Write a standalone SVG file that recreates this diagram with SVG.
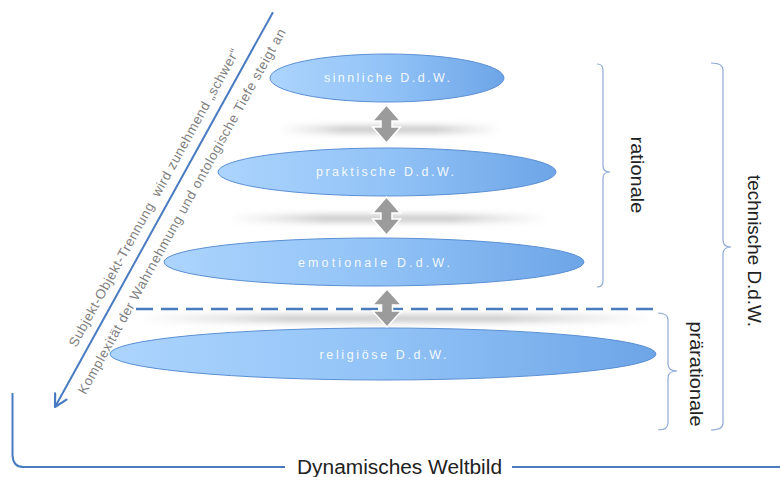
<svg xmlns="http://www.w3.org/2000/svg" width="780" height="477" viewBox="0 0 780 477">
  <defs>
    <linearGradient id="ellGrad" x1="0" y1="0" x2="1" y2="0">
      <stop offset="0" stop-color="#acd4fd"/>
      <stop offset="0.5" stop-color="#92c3f7"/>
      <stop offset="1" stop-color="#6da5e7"/>
    </linearGradient>
    <linearGradient id="shadowGrad" x1="0" y1="0" x2="1" y2="0">
      <stop offset="0" stop-color="#d0d0d0" stop-opacity="0"/>
      <stop offset="0.3" stop-color="#c4c4c4"/>
      <stop offset="0.7" stop-color="#c4c4c4"/>
      <stop offset="1" stop-color="#d0d0d0" stop-opacity="0"/>
    </linearGradient>
    <filter id="blurV" x="-10%" y="-200%" width="120%" height="500%">
      <feGaussianBlur stdDeviation="2 3"/>
    </filter>
    <marker id="openHead" markerUnits="userSpaceOnUse" markerWidth="16" markerHeight="16" refX="1" refY="8" orient="auto" viewBox="0 0 16 16">
      <path d="M13,1.5 L1,8 L13,14.5" fill="none" stroke="#4a7bc0" stroke-width="2.2" stroke-linecap="round" stroke-linejoin="round"/>
    </marker>
    <style>
      .ell { fill: url(#ellGrad); stroke: #5b8fd3; stroke-width: 1; }
      .ellText { font-family: "Liberation Sans", Arial, sans-serif; font-size: 12.5px; fill: #ffffff; fill-opacity: 0.92; text-anchor: middle; }
      .dbl { fill: #9b9b9b; stroke: #ffffff; stroke-width: 1.5; }
      .brace { fill: none; stroke: #8faad6; stroke-width: 1.2; }
      .label { font-family: "Liberation Sans", Arial, sans-serif; font-size: 19px; fill: #222222; text-anchor: middle; }
      .diag { font-family: "Liberation Sans", Arial, sans-serif; font-size: 13.5px; fill: #7f7f7f; }
      .blueLine { fill: none; stroke: #4a7bc0; stroke-width: 2; }
      .shadow { fill: url(#shadowGrad); filter: url(#blurV); }
    </style>
  </defs>
  <rect width="780" height="477" fill="#ffffff"/>

  <!-- shadows -->
  <g id="shadows">
    <rect class="shadow" x="278" y="126" width="224" height="7"/>
    <rect class="shadow" x="228" y="215" width="320" height="7"/>
    <rect class="shadow" x="138" y="315" width="515" height="7"/>
  </g>

  <!-- dashed separator -->
  <g id="separator">
    <line x1="136" y1="309" x2="655" y2="309" stroke="#4a7bbf" stroke-width="2.5" stroke-dasharray="17 8"/>
  </g>

  <!-- nodes -->
  <g id="sinnliche">
    <ellipse class="ell" cx="387" cy="78" rx="117" ry="24"/>
    <text class="ellText" x="387" y="82" textLength="126" lengthAdjust="spacing">sinnliche D.d.W.</text>
  </g>
  <g id="praktische">
    <ellipse class="ell" cx="387" cy="172" rx="169" ry="24"/>
    <text class="ellText" x="385" y="176" textLength="138" lengthAdjust="spacing">praktische D.d.W.</text>
  </g>
  <g id="emotionale">
    <ellipse class="ell" cx="374" cy="262" rx="210" ry="24"/>
    <text class="ellText" x="374" y="267" textLength="152" lengthAdjust="spacing">emotionale D.d.W.</text>
  </g>
  <g id="religioese">
    <ellipse class="ell" cx="383" cy="354" rx="273" ry="26"/>
    <text class="ellText" x="383" y="359" textLength="127" lengthAdjust="spacing">religiöse D.d.W.</text>
  </g>

  <!-- connectors: double arrows -->
  <g id="connectors">
    <polygon class="dbl" points="386.5,105 400.5,121 392,121 392,127 400.5,127 386.5,143 372.5,127 381,127 381,121 372.5,121"/>
    <polygon class="dbl" points="386.5,197 400.5,213 392,213 392,219 400.5,219 386.5,235 372.5,219 381,219 381,213 372.5,213"/>
    <polygon class="dbl" points="387,289 401.5,305 392.5,305 392.5,311 401.5,311 387,327 372.5,311 381.5,311 381.5,305 372.5,305"/>
  </g>

  <!-- diagonal arrow with texts -->
  <g id="diagonal" transform="translate(55,407) rotate(-61.1)">
    <line class="blueLine" x1="0" y1="0" x2="451" y2="0" marker-start="url(#openHead)"/>
    <text class="diag" x="62" y="-10" textLength="338" lengthAdjust="spacing" xml:space="preserve">Subjekt-Objekt-Trennung  wird zunehmend „schwer“</text>
    <text class="diag" x="25" y="21" textLength="415" lengthAdjust="spacing">Komplexität der Wahrnehmung und ontologische Tiefe steigt an</text>
  </g>

  <!-- braces -->
  <g id="brace-rationale">
    <path class="brace" d="M597,64 Q603,64 603,70 L603,166 Q603,172 610,172 Q603,172 603,178 L603,281 Q603,287 597,287"/>
    <text class="label" transform="translate(631,175) rotate(90)" textLength="77" lengthAdjust="spacingAndGlyphs">rationale</text>
  </g>
  <g id="brace-technische">
    <path class="brace" d="M711,63 Q723,63 723,70 L723,240 Q723,247 731,247 Q723,247 723,254 L723,423 Q723,430 711,430"/>
    <text class="label" transform="translate(748,251) rotate(90)" textLength="152" lengthAdjust="spacingAndGlyphs">technische D.d.W.</text>
  </g>
  <g id="brace-praerationale">
    <path class="brace" d="M658,313 Q668,313 668,320 L668,364 Q668,371 677,371 Q668,371 668,378 L668,423 Q668,430 658,430"/>
    <text class="label" transform="translate(690,374) rotate(90)" textLength="105" lengthAdjust="spacingAndGlyphs">prärationale</text>
  </g>

  <!-- bottom frame -->
  <g id="weltbild">
    <path class="blueLine" d="M12.5,393 L12.5,455 Q13,467 23,467 L285,467"/>
    <line class="blueLine" x1="512" y1="467" x2="780" y2="467"/>
    <text class="label" x="399.5" y="474" style="font-size:20px" textLength="205" lengthAdjust="spacingAndGlyphs">Dynamisches Weltbild</text>
  </g>
</svg>
